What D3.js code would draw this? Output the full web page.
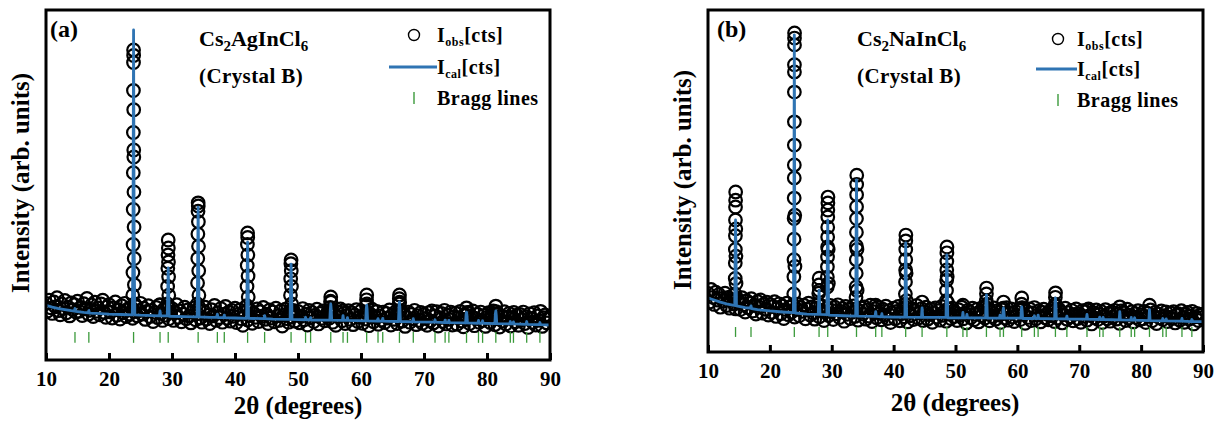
<!DOCTYPE html>
<html><head><meta charset="utf-8">
<script src="https://cdn.jsdelivr.net/npm/d3@7"></script>
<style>
body{margin:0;background:#fff}
svg text{font-family:"Liberation Serif","Times New Roman",serif;font-weight:bold;fill:#000}
</style>
</head><body>
<svg id="c" width="1225" height="432"></svg>
<script>
// ---------------- DATA ----------------
const xTicks = [10, 20, 30, 40, 50, 60, 70, 80, 90];
const obsStart = 10, obsStep = 0.25;   // observed background grid (2θ)

// Panel (a) Cs2AgInCl6 — observed background intensities every 0.25° from 10° to 90°
const obsBgA = [
162,140,171,149,133,166,152,178,141,129,160,147,170,135,151,126,163,144,158,137,
168,139,150,127,161,146,176,131,142,157,124,165,139,149,129,160,171,136,122,152,
158,137,120,149,166,128,143,117,155,135,162,124,146,131,150,119,138,153,126,141,
162,131,148,116,139,155,124,142,110,136,150,121,157,133,113,145,128,152,118,137,
147,113,135,158,122,140,109,131,151,118,143,126,106,137,149,115,132,144,120,108,
139,151,117,128,104,144,126,156,113,135,121,147,108,130,153,119,137,111,142,125,
148,107,131,143,118,99,136,152,114,127,141,105,133,122,146,110,138,125,150,116,
131,104,143,120,137,109,148,126,113,140,97,129,145,118,108,134,123,142,111,128,
139,106,125,147,115,131,100,142,121,136,110,128,145,103,133,119,140,112,126,137,
120,143,108,130,99,138,124,146,112,133,104,127,141,116,135,101,129,144,110,122,
140,105,128,117,136,98,131,145,109,123,139,102,126,114,137,107,133,120,143,100,
129,116,138,104,125,141,111,134,96,122,137,108,130,118,142,101,127,113,136,105,
131,119,99,135,112,140,106,126,138,97,121,133,110,142,103,128,116,137,100,124,
134,102,121,139,111,95,129,117,136,104,125,140,98,119,131,108,137,113,127,96,
122,135,107,129,140,101,118,132,94,126,111,138,103,123,133,97,120,136,109,128,
99,130,115,137,104,124,93,132,118,108,135,100,126,113,139,96,121,129,106,117,
123
];
// Panel (a) — observed points on the Bragg peaks [2θ, intensity]
const obsPeakA = [
[23.77,185],[23.8,250],[23.82,330],[23.84,430],[23.86,535],[23.87,650],[23.88,770],[23.89,850],[23.9,886],
[23.91,870],[23.92,715],[23.93,600],[23.94,580],[23.96,480],[23.98,380],[24.0,290],[24.03,215],[24.06,160],
[28.1,158],
[29.28,160],[29.31,210],[29.34,262],[29.37,300],[29.4,343],[29.42,320],[29.44,280],[29.46,238],[29.49,185],[29.52,150],
[34.03,160],[34.06,220],[34.09,290],[34.11,360],[34.13,425],[34.15,449],[34.17,440],[34.19,395],[34.21,325],[34.24,255],[34.27,185],[34.3,150],
[41.88,155],[41.91,210],[41.94,270],[41.97,330],[42.0,363],[42.02,350],[42.04,300],[42.07,240],[42.1,180],[42.13,145],
[48.78,140],[48.81,185],[48.84,232],[48.87,275],[48.9,286],[48.93,255],[48.96,210],[48.99,160],[49.02,135],
[55.1,132],[55.14,150],[55.17,168],[55.2,180],[55.23,165],[55.27,140],
[57.15,140],
[60.81,135],[60.85,155],[60.88,172],[60.91,186],[60.94,160],[60.98,135],
[66.01,140],[66.05,160],[66.08,175],[66.11,186],[66.14,165],[66.18,140],
[76.69,128],[76.75,149],[76.81,135],
[81.33,132],[81.4,154],[81.46,138]
];
// Panel (a) — calculated profile [2θ, intensity]
const calcA = [
[10,156],[11,151],[12,147],[13,144],[14,141],[14.5,140],[14.6,147],[14.7,139],[16,136],[16.7,135],[16.8,141],[16.9,134],
[18,133],[20,131],[22,130],[23.7,129],[23.8,300],[23.9,943],[24.0,300],[24.1,129],[25,128],[27,127],[28.0,126],[28.1,140],
[28.2,126],[29.25,126],[29.33,200],[29.4,263],[29.47,200],[29.55,125],[32,124],[34.0,123],[34.08,300],[34.15,437],[34.22,300],
[34.3,123],[36,122],[37.1,122],[37.2,131],[37.3,121],[38.2,121],[38.3,128],[38.4,121],[40,120],[41.85,119],[41.93,250],
[42.0,337],[42.07,250],[42.15,119],[44.6,118],[44.7,127],[44.8,118],[46,117],[48.75,116],[48.83,220],[48.9,274],[48.97,220],
[49.05,116],[51.1,115],[51.2,122],[51.3,115],[51.9,115],[52.0,121],[52.1,114],[55.05,114],[55.13,145],[55.2,160],[55.27,145],
[55.35,114],[57.05,113],[57.15,127],[57.25,113],[57.75,113],[57.85,121],[57.95,113],[60.75,112],[60.83,145],[60.9,157],
[60.97,145],[61.05,112],[62.6,111],[62.7,118],[62.8,111],[63.35,111],[63.45,119],[63.55,111],[65.95,110],[66.03,150],
[66.1,166],[66.17,150],[66.25,110],[68.2,109],[68.3,118],[68.4,109],[71.65,108],[71.75,115],[71.85,108],[73.25,107],
[73.35,114],[73.45,107],[73.85,107],[73.95,113],[74.05,107],[76.6,106],[76.68,130],[76.75,137],[76.82,128],[76.9,106],
[78.55,105],[78.65,113],[78.75,105],[79.2,105],[79.3,112],[79.4,105],[81.25,104],[81.33,132],[81.4,140],[81.47,128],
[81.55,104],[83.6,103],[83.7,110],[83.8,103],[84.1,103],[84.2,109],[84.3,103],[86.2,102],[86.3,110],[86.4,102],
[88.3,101],[88.4,107],[88.5,101],[90,100]
];
// Panel (a) — Bragg reflection positions (2θ)
const braggA = [14.6,16.8,23.9,28.1,29.4,34.15,37.2,38.3,42.0,44.7,48.9,51.2,52.0,55.2,57.15,57.85,60.9,62.7,63.45,66.1,
68.3,71.75,73.35,73.95,76.75,78.65,79.3,81.4,83.7,84.2,86.3,88.4];

// Panel (b) Cs2NaInCl6 — observed background intensities every 0.25° from 10° to 90°
const obsBgB = [
171,146,183,160,139,175,152,168,131,157,149,172,136,160,128,151,165,140,126,155,
147,124,159,138,117,150,129,143,156,120,137,111,148,131,152,114,140,125,146,108,
139,116,133,147,104,128,141,112,135,98,124,143,109,131,117,138,102,127,140,106,
130,119,137,97,125,143,108,132,114,96,128,139,103,121,134,92,118,129,107,136,
122,95,131,112,138,101,119,127,90,133,110,124,98,116,135,104,126,93,120,129,
111,132,96,123,105,137,89,118,127,100,131,113,94,125,108,134,98,121,86,115,
128,97,119,133,91,112,124,103,130,88,117,106,126,95,121,136,99,114,127,92,
118,131,96,109,125,87,115,129,102,121,93,133,107,119,90,126,111,98,128,104,
116,92,124,107,131,97,113,85,122,118,101,128,94,110,125,88,119,106,132,99,
113,127,91,117,104,129,96,121,108,86,124,112,99,130,93,115,126,102,89,118,
107,123,95,128,110,84,119,101,126,92,114,130,97,108,121,88,116,125,100,111,
94,120,106,127,89,113,99,124,117,85,109,128,96,115,103,122,91,110,126,98,
112,87,121,104,118,93,126,107,82,115,100,123,95,110,119,86,105,124,97,113,
90,117,103,122,96,111,84,120,106,114,92,125,99,108,118,88,112,101,121,94,
109,97,119,86,113,104,123,91,107,116,83,111,100,120,95,106,117,89,102,114,
98,118,85,108,112,93,121,101,87,110,116,96,105,119,82,103,113,92,107,100,
111
];
// Panel (b) — observed points on the Bragg peaks [2θ, intensity]
const obsPeakB = [
[14.38,170],[14.4,215],[14.41,260],[14.42,300],[14.43,340],[14.44,386],[14.45,424],[14.46,444],[14.47,468],[14.49,360],[14.51,280],[14.53,200],
[23.86,170],[23.88,220],[23.9,270],[23.91,330],[23.92,390],[23.93,450],[23.94,509],[23.95,547],[23.95,605],[23.96,673],
[23.96,760],[23.97,819],[23.97,840],[23.98,898],[23.98,918],[23.99,933],[24.02,400],[24.05,250],
[27.9,172],[27.93,196],[27.96,216],[28.0,180],
[29.27,190],[29.29,219],[29.3,249],[29.32,278],[29.33,307],[29.34,336],[29.35,365],[29.36,395],[29.37,415],[29.38,436],[29.39,453],[29.42,300],[29.45,200],
[33.92,160],[33.94,190],[33.96,230],[33.97,270],[33.98,310],[33.99,350],[34.0,390],[34.01,425],[34.02,460],[34.03,490],[34.04,517],[34.07,300],[34.1,180],
[41.88,140],[41.9,170],[41.92,205],[41.94,240],[41.95,270],[41.96,300],[41.97,325],[41.98,342],[42.02,230],[42.06,150],
[48.53,150],[48.55,180],[48.57,210],[48.59,240],[48.6,265],[48.61,290],[48.62,307],[48.66,220],[48.7,145],
[54.94,130],[54.97,150],[55.0,170],[55.02,187],[55.06,140],
[57.7,128],[57.76,146],
[60.64,125],[60.68,140],[60.71,158],[60.76,130],
[66.08,120],[66.11,140],[66.14,160],[66.17,173],[66.21,135],
[37.1,137],[44.6,146],[51.2,137],[71.25,123],[76.55,132],[81.35,137]
];
// Panel (b) — calculated profile [2θ, intensity]
const calcB = [
[10,158],[11,152],[12,146],[13,141],[14,137],[14.32,136],[14.39,300],[14.45,386],[14.52,300],[14.6,135],[16,130],[16.85,128],
[16.95,135],[17.05,127],[18,124],[20,120],[22,117],[23.8,115],[23.88,400],[23.95,927],[24.02,400],[24.1,114],[26,111],
[27.82,110],[27.9,160],[27.95,181],[28.01,150],[28.1,110],[29.22,109],[29.29,300],[29.35,386],[29.42,300],[29.5,108],[32,106],
[33.87,105],[33.94,350],[34.0,503],[34.07,350],[34.15,105],[37.0,104],[37.1,118],[37.2,104],[38.0,103],[38.1,112],[38.2,103],
[40,102],[41.82,102],[41.89,250],[41.95,319],[42.02,250],[42.1,102],[44.5,101],[44.6,129],[44.7,101],[46,101],[48.47,101],
[48.54,230],[48.6,284],[48.67,230],[48.75,100],[51.1,100],[51.2,116],[51.3,100],[51.75,100],[51.85,110],[51.95,100],
[54.87,100],[54.94,150],[55.0,167],[55.07,150],[55.15,99],[57.1,99],[57.2,108],[57.3,99],[57.62,99],[57.69,122],[57.75,129],
[57.82,120],[57.9,99],[60.57,99],[60.64,122],[60.7,132],[60.77,120],[60.85,98],[62.65,98],[62.75,106],[62.85,98],[63.25,98],
[63.35,108],[63.45,98],[66.02,97],[66.09,145],[66.15,158],[66.22,140],[66.3,97],[67.9,97],[68.0,105],[68.1,96],[71.15,96],
[71.25,110],[71.35,96],[73.2,95],[73.3,102],[73.4,95],[73.75,95],[73.85,101],[73.95,95],[76.45,94],[76.55,118],[76.65,94],
[78.3,93],[78.4,101],[78.5,93],[78.85,93],[78.95,100],[79.05,93],[81.25,92],[81.35,124],[81.45,92],[83.4,91],[83.5,98],
[83.6,91],[83.95,91],[84.05,97],[84.15,91],[86.5,90],[86.6,98],[86.7,90],[88.1,89],[88.2,95],[88.3,89],[90,89]
];
// Panel (b) — Bragg reflection positions (2θ)
const braggB = [14.45,16.95,23.95,27.95,29.35,34.0,37.1,38.1,41.95,44.6,48.6,51.2,51.85,55.0,57.2,57.75,60.7,62.75,63.35,66.15,
68.0,71.25,73.3,73.85,76.55,78.4,78.95,81.35,83.5,84.05,86.6,88.2];

const panelTags = ["(a)", "(b)"];
const compounds = [["Cs","2","AgInCl","6"], ["Cs","2","NaInCl","6"]];
const crystalText = "(Crystal B)";
const legendLabels = [["I","obs","[cts]"], ["I","cal","[cts]"], ["Bragg lines"]];
const xTitle = "2θ (degrees)";
const yTitle = "Intensity (arb. units)";

// ---------------- LAYOUT / STYLE ----------------
const COL_CALC = "#2f74b3", COL_BRAGG = "#3b9a3b";
const layout = [
  {x0:46, x1:550, y0:10, y1:360, braggBand:[49,80], tag:[50,37], comp:[199,46], crystal:[199,83],
   leg:{cx:414, lx0:389, tx:437, ys:[42,74,105]}, xt:[298,414], yt:[29,183]},
  {x0:708, x1:1203, y0:10, y1:352, braggBand:[44,73], tag:[717,37], comp:[857,46], crystal:[857,83],
   leg:{cx:1058, lx0:1036, tx:1077, ys:[46,76,107]}, xt:[955,411], yt:[691,180]}
];
const panelData = [
  {obsBg: obsBgA, obsPeak: obsPeakA, calc: calcA, bragg: braggA},
  {obsBg: obsBgB, obsPeak: obsPeakB, calc: calcB, bragg: braggB}
];

const svg = d3.select("#c");

panelData.forEach((pd, i) => {
  const L = layout[i];
  const x = d3.scaleLinear().domain([10, 90]).range([L.x0, L.x1]);
  const y = d3.scaleLinear().domain([0, 1000]).range([L.y1, L.y0]);
  const g = svg.append("g");

  g.append("clipPath").attr("id", "clip" + i)
    .append("rect").attr("x", L.x0).attr("y", L.y0).attr("width", L.x1 - L.x0).attr("height", L.y1 - L.y0);
  const inner = g.append("g").attr("clip-path", `url(#clip${i})`);

  // observed points
  const obs = pd.obsBg.map((v, k) => [obsStart + k * obsStep, v]).concat(pd.obsPeak);
  inner.append("g").selectAll("circle").data(obs).join("circle")
    .attr("cx", d => x(d[0])).attr("cy", d => y(d[1])).attr("r", 6.3)
    .attr("fill", "none").attr("stroke", "#000").attr("stroke-width", 2.2);

  // calculated profile
  inner.append("path").datum(pd.calc)
    .attr("d", d3.line().x(d => x(d[0])).y(d => y(d[1])))
    .attr("fill", "none").attr("stroke", COL_CALC).attr("stroke-width", 2.8).attr("stroke-linejoin", "round");

  // Bragg lines
  inner.append("g").selectAll("line").data(pd.bragg).join("line")
    .attr("x1", d => x(d)).attr("x2", d => x(d))
    .attr("y1", y(L.braggBand[0])).attr("y2", y(L.braggBand[1]))
    .attr("stroke", COL_BRAGG).attr("stroke-width", 1.3);

  // x axis (ticks inward)
  const ax = g.append("g").attr("transform", `translate(0,${L.y1})`)
    .call(d3.axisBottom(x).tickValues(xTicks).tickSize(-7).tickPadding(11).tickFormat(d3.format("d")));
  ax.select(".domain").remove();
  ax.attr("font-family", null).attr("font-size", null);
  ax.selectAll("line").attr("stroke", "#000").attr("stroke-width", 3);
  ax.selectAll("text").attr("font-size", 21).attr("fill", "#000");

  // frame
  g.append("rect").attr("x", L.x0).attr("y", L.y0).attr("width", L.x1 - L.x0).attr("height", L.y1 - L.y0)
    .attr("fill", "none").attr("stroke", "#000").attr("stroke-width", 3);

  // panel tag
  g.append("text").attr("x", L.tag[0]).attr("y", L.tag[1]).attr("font-size", 24).text(panelTags[i]);

  // compound name with subscripts
  const c = compounds[i];
  const ct = g.append("text").attr("x", L.comp[0]).attr("y", L.comp[1]).attr("font-size", 22);
  ct.append("tspan").text(c[0]);
  ct.append("tspan").attr("font-size", 15).attr("dy", 5).text(c[1]);
  ct.append("tspan").attr("dy", -5).text(c[2]);
  ct.append("tspan").attr("font-size", 15).attr("dy", 5).text(c[3]);
  g.append("text").attr("x", L.crystal[0]).attr("y", L.crystal[1]).attr("font-size", 21)
    .attr("letter-spacing", 0.4).text(crystalText);

  // legend
  const lg = L.leg;
  g.append("circle").attr("cx", lg.cx).attr("cy", lg.ys[0] - 7).attr("r", 5.5)
    .attr("fill", "none").attr("stroke", "#000").attr("stroke-width", 1.4);
  g.append("line").attr("x1", lg.lx0).attr("x2", lg.tx).attr("y1", lg.ys[1] - 7).attr("y2", lg.ys[1] - 7)
    .attr("stroke", COL_CALC).attr("stroke-width", 2.8);
  g.append("line").attr("x1", lg.cx).attr("x2", lg.cx).attr("y1", lg.ys[2] - 13).attr("y2", lg.ys[2] - 1)
    .attr("stroke", COL_BRAGG).attr("stroke-width", 1.4);
  legendLabels.forEach((lab, k) => {
    const t = g.append("text").attr("x", lg.tx).attr("y", lg.ys[k]).attr("font-size", 20)
      .attr("letter-spacing", 0.5);
    if (lab.length === 3) {
      t.append("tspan").text(lab[0]);
      t.append("tspan").attr("font-size", 12).attr("dy", 4).text(lab[1]);
      t.append("tspan").attr("dy", -4).text(lab[2]);
    } else {
      t.text(lab[0]);
    }
  });

  // axis titles
  g.append("text").attr("x", L.xt[0]).attr("y", L.xt[1]).attr("text-anchor", "middle")
    .attr("font-size", 25).text(xTitle);
  g.append("text").attr("transform", `translate(${L.yt[0]},${L.yt[1]}) rotate(-90)`)
    .attr("text-anchor", "middle").attr("font-size", 25).text(yTitle);
});
</script>
</body></html>
